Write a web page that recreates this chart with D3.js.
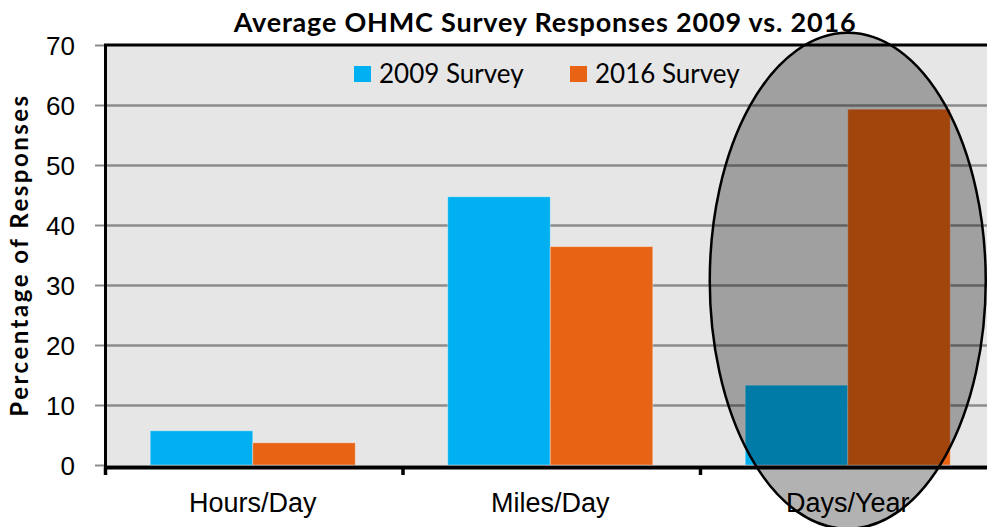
<!DOCTYPE html>
<html>
<head>
<meta charset="utf-8">
<script src="https://cdn.jsdelivr.net/npm/d3@7"></script>
<style>
  body { margin: 0; background: #fff; }
  svg { display: block; font-family: Lato, "Open Sans", sans-serif; }
</style>
</head>
<body>
<svg id="chart" width="987" height="527"></svg>
<script>
var categories = ["Hours/Day", "Miles/Day", "Days/Year"];
var seriesNames = ["2009 Survey", "2016 Survey"];
var survey2009 = [5.7, 44.7, 13.3];
var survey2016 = [3.7, 36.4, 59.3];
var yTicks = [0, 10, 20, 30, 40, 50, 60, 70];
var colors = ["#00B0F0", "#E96314"];

var svg = d3.select("#chart");
var plotLeft = 104, plotTop = 45, plotBottom = 465, plotRight = 996.5;

var x = d3.scaleBand().domain(categories).range([plotLeft, plotRight]);
var xSub = d3.scaleBand().domain(seriesNames).range([0, x.bandwidth()]).paddingOuter(0.451);
var y = d3.scaleLinear().domain([0, 70]).range([plotBottom, plotTop]);

var rows = categories.map(function (c, i) {
  return { cat: c, values: [survey2009[i], survey2016[i]] };
});

// plot background
svg.append("rect")
  .attr("x", plotLeft).attr("y", plotTop)
  .attr("width", plotRight - plotLeft).attr("height", plotBottom - plotTop)
  .attr("fill", "#E6E6E6");

// gridlines
svg.append("g")
  .attr("transform", "translate(" + plotLeft + ",0)")
  .call(d3.axisLeft(y).tickValues(yTicks.slice(1, -1)).tickSize(-(plotRight - plotLeft)).tickFormat(""))
  .call(function (g) { g.select(".domain").remove(); })
  .selectAll("line")
  .attr("stroke", "#8C8C8C")
  .attr("stroke-width", 2.5);

// bars
svg.append("g").selectAll("g")
  .data(rows)
  .enter()
  .append("g")
  .attr("transform", function (d) { return "translate(" + x(d.cat) + ",0)"; })
  .selectAll("rect")
  .data(function (d) { return d.values; })
  .enter()
  .append("rect")
  .attr("x", function (d, i) { return xSub(seriesNames[i]); })
  .attr("y", function (d) { return y(d); })
  .attr("width", xSub.bandwidth())
  .attr("height", function (d) { return plotBottom - y(d); })
  .attr("fill", function (d, i) { return colors[i]; })
  .attr("stroke", "rgba(255,255,255,0.35)")
  .attr("stroke-width", 1);

// y axis
var yAxis = svg.append("g")
  .attr("transform", "translate(" + plotLeft + ",0)")
  .call(d3.axisLeft(y).tickValues(yTicks).tickSize(9).tickPadding(20));
yAxis.select(".domain").remove();
yAxis.selectAll("line").attr("stroke", "#8C8C8C").attr("stroke-width", 2);
yAxis.selectAll("text")
  .attr("fill", "#000")
  .style("font-size", "26px")
  .attr("dy", "0.36em");

svg.append("line")
  .attr("x1", plotLeft + 1.5).attr("x2", plotLeft + 1.5)
  .attr("y1", plotTop).attr("y2", plotBottom + 2)
  .attr("stroke", "#000").attr("stroke-width", 3);

// top border
svg.append("line")
  .attr("x1", plotLeft).attr("x2", plotRight)
  .attr("y1", plotTop).attr("y2", plotTop)
  .attr("stroke", "#000").attr("stroke-width", 3);

// x axis
var xAxis = svg.append("g")
  .attr("transform", "translate(0," + (plotBottom + 2) + ")")
  .call(d3.axisBottom(x).tickSize(0).tickPadding(26));
xAxis.select(".domain").attr("stroke", "#000").attr("stroke-width", 4);
xAxis.selectAll("text").attr("fill", "#000").style("font-size", "27px");

svg.append("g").selectAll("line")
  .data(categories)
  .enter()
  .append("line")
  .attr("x1", function (d) { return x(d) + 1.5; })
  .attr("x2", function (d) { return x(d) + 1.5; })
  .attr("y1", plotBottom + 2)
  .attr("y2", plotBottom + 10)
  .attr("stroke", "#000")
  .attr("stroke-width", 3.5);

// legend
var legendX = [354, 570];
var legend = svg.append("g").selectAll("g")
  .data(seriesNames)
  .enter()
  .append("g")
  .attr("transform", function (d, i) { return "translate(" + legendX[i] + ",66)"; });
legend.append("rect")
  .attr("width", 17).attr("height", 16)
  .attr("fill", function (d, i) { return colors[i]; });
legend.append("text")
  .attr("x", 25).attr("y", 17)
  .style("font-size", "26px")
  .text(function (d) { return d; });

// title
svg.append("text")
  .attr("x", 545).attr("y", 32)
  .attr("text-anchor", "middle")
  .style("font-size", "27px")
  .style("font-weight", "bold")
  .style("letter-spacing", "0.8px")
  .text("Average OHMC Survey Responses 2009 vs. 2016");

svg.append("text")
  .attr("transform", "translate(28,255) rotate(-90)")
  .attr("text-anchor", "middle")
  .style("font-size", "24px")
  .style("font-weight", "bold")
  .style("letter-spacing", "2.5px")
  .text("Percentage of Responses");

// highlight ellipse around Days/Year
svg.append("ellipse")
  .attr("cx", x("Days/Year") + x.bandwidth() / 2)
  .attr("cy", y(30.7))
  .attr("rx", 138)
  .attr("ry", 248)
  .attr("fill", "rgba(0,0,0,0.3)")
  .attr("stroke", "#000")
  .attr("stroke-width", 2.5);
</script>
</body>
</html>
